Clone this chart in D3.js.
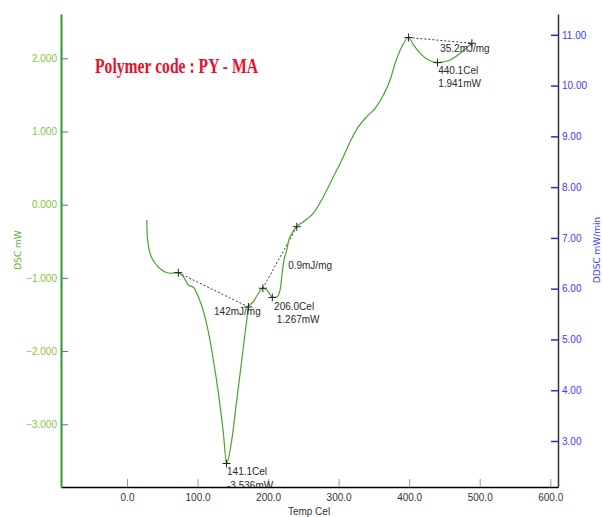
<!DOCTYPE html>
<html>
<head>
<meta charset="utf-8">
<script src="https://cdn.jsdelivr.net/npm/d3@7"></script>
<style>
    body { margin: 0; background: #fff; }
    .narrow { font-family: "Liberation Sans", Arial, sans-serif; }
</style>
</head>
<body>
<div id="chart"></div>
<script>
// DSC trace (temperature in Cel, heat flow in mW)
var temps = [27.9, 28.8, 32.6, 39.7, 49.2, 61.0, 72.8, 79.9, 87.0, 94.0, 101.1, 108.2,
    115.3, 122.4, 129.5, 136.6, 141.1, 148.5, 155.6, 162.7, 167.4, 169.8, 172.1, 179.1,
    186.2, 192.5, 200.4, 206.0, 212.3, 217.0, 219.4, 221.7, 226.5, 228.8, 234.0, 240.7,
    250.1, 264.3, 278.4, 292.6, 304.5, 316.3, 328.1, 340.0, 351.8, 363.5, 373.0, 380.1,
    389.6, 399.0, 406.1, 415.6, 427.4, 440.1, 458.2, 472.3, 488.9];
var dsc = [-0.209, -0.437, -0.660, -0.797, -0.892, -0.937, -0.929, -0.984, -1.097, -1.128,
    -1.257, -1.452, -1.739, -2.122, -2.572, -3.119, -3.536, -3.214, -2.668, -2.122, -1.753,
    -1.575, -1.398, -1.325, -1.210, -1.142, -1.188, -1.267, -1.261, -1.166, -0.984, -0.801,
    -0.619, -0.505, -0.387, -0.301, -0.232, -0.117, 0.109, 0.383, 0.611, 0.861, 1.066,
    1.202, 1.317, 1.499, 1.704, 1.932, 2.158, 2.284, 2.182, 2.068, 1.977, 1.941, 1.977,
    2.068, 2.205];

// integration limits / peak markers (index into the trace)
var markerIdx = [6, 16, 22, 25, 27, 35, 49, 53, 56];
// partial area baselines: [start index, end index]
var baselines = [[6, 22], [25, 35], [49, 56]];

// annotation texts and where they sit (data units)
var noteText = ["142mJ/mg", "0.9mJ/mg", "206.0Cel", "1.267mW", "141.1Cel", "-3.536mW",
    "35.2mJ/mg", "440.1Cel", "1.941mW"];
var noteTemp = [123.4, 228.4, 208.5, 212.3, 141.8, 141.8, 444.0, 441.1, 441.1];
var noteDsc = [-1.464, -0.837, -1.393, -1.575, -3.648, -3.843, 2.137, 1.831, 1.649];

var xTicks = [0, 100, 200, 300, 400, 500, 600];
var leftTicks = [-3, -2, -1, 0, 1, 2];
var rightTicks = [3, 4, 5, 6, 7, 8, 9, 10, 11];

var titleText = "Polymer code : PY - MA";

function drawDsc(divName) {
    var W = 602, H = 517;
    var left = 61, right = 558, top = 14, bottom = 487;

    var x = d3.scaleLinear().domain([-93.6, 611]).range([left, right]);
    var yL = d3.scaleLinear().domain([-3.857, 2.605]).range([bottom, top]);
    var yR = d3.scaleLinear().domain([2.094, 11.41]).range([bottom, top]);

    var svg = d3.select('#' + divName)
        .append('svg')
        .attr('width', W)
        .attr('height', H);

    svg.append('clipPath').attr('id', 'plotclip')
        .append('rect')
        .attr('x', left).attr('y', top)
        .attr('width', right - left).attr('height', bottom - top);

    // x axis
    var xAxis = svg.append('g')
        .attr('transform', 'translate(0,' + bottom + ')')
        .call(d3.axisBottom(x).tickValues(xTicks).tickFormat(d3.format('.1f'))
            .tickSizeInner(-8).tickSizeOuter(0).tickPadding(7));
    xAxis.select('.domain').attr('stroke', '#000').attr('stroke-width', 1.5);
    xAxis.selectAll('.tick line').attr('stroke', '#999');
    xAxis.selectAll('.tick text')
        .attr('class', 'narrow')
        .attr('font-size', 10)
        .attr('fill', '#333');

    svg.append('text')
        .attr('x', 309).attr('y', 515)
        .attr('text-anchor', 'middle')
        .attr('class', 'narrow')
        .attr('font-size', 10)
        .attr('fill', '#333')
        .text('Temp Cel');

    // left axis (DSC)
    var yAxisL = svg.append('g')
        .attr('transform', 'translate(' + left + ',0)')
        .call(d3.axisLeft(yL).tickValues(leftTicks).tickFormat(d3.format('.3f'))
            .tickSizeInner(-7).tickSizeOuter(0).tickPadding(4));
    yAxisL.select('.domain').attr('stroke', '#2e9a2e').attr('stroke-width', 2);
    yAxisL.selectAll('.tick line').attr('stroke', '#3d8f3d');
    yAxisL.selectAll('.tick text')
        .attr('class', 'narrow')
        .attr('font-size', 10)
        .attr('fill', '#86c440');

    svg.append('text')
        .attr('transform', 'translate(21,250) rotate(-90)')
        .attr('text-anchor', 'middle')
        .attr('font-family', 'DejaVu Sans, sans-serif')
        .attr('font-size', 9)
        .attr('fill', '#58b030')
        .text('DSC mW');

    // right axis (DDSC)
    var yAxisR = svg.append('g')
        .attr('transform', 'translate(' + right + ',0)')
        .call(d3.axisRight(yR).tickValues(rightTicks).tickFormat(d3.format('.2f'))
            .tickSizeInner(-7).tickSizeOuter(0).tickPadding(4));
    yAxisR.select('.domain').attr('stroke', '#333').attr('stroke-width', 1.5);
    yAxisR.selectAll('.tick line').attr('stroke', '#2a2ae0').attr('stroke-width', 1.5);
    yAxisR.selectAll('.tick text')
        .attr('class', 'narrow')
        .attr('font-size', 10)
        .attr('fill', '#3a3aff');

    svg.append('text')
        .attr('transform', 'translate(600,250) rotate(-90)')
        .attr('text-anchor', 'middle')
        .attr('font-family', 'DejaVu Sans, sans-serif')
        .attr('font-size', 9)
        .attr('fill', '#3a3aff')
        .text('DDSC mW/min');

    // title
    svg.append('text')
        .attr('x', 95).attr('y', 73)
        .attr('font-family', 'Liberation Serif, Times New Roman, serif')
        .attr('font-weight', 'bold')
        .attr('font-size', 20)
        .attr('textLength', 163)
        .attr('lengthAdjust', 'spacingAndGlyphs')
        .attr('fill', '#e8102a')
        .text(titleText);

    var g = svg.append('g').attr('clip-path', 'url(#plotclip)');

    var pts = temps.map(function (t, i) {
        return [t, dsc[i]];
    });

    // baselines
    g.selectAll('.baseline')
        .data(baselines)
        .enter().append('line')
        .attr('class', 'baseline')
        .attr('x1', function (d) { return x(temps[d[0]]); })
        .attr('y1', function (d) { return yL(dsc[d[0]]); })
        .attr('x2', function (d) { return x(temps[d[1]]); })
        .attr('y2', function (d) { return yL(dsc[d[1]]); })
        .attr('stroke', '#222')
        .attr('stroke-width', 0.9)
        .attr('stroke-dasharray', '2,2');

    // DSC curve
    var line = d3.line()
        .x(function (d) { return x(d[0]); })
        .y(function (d) { return yL(d[1]); })
        .curve(d3.curveMonotoneX);

    g.append('path')
        .datum(pts)
        .attr('fill', 'none')
        .attr('stroke', '#46a52c')
        .attr('stroke-width', 1.2)
        .attr('d', line);

    // markers
    var cross = g.selectAll('.marker')
        .data(markerIdx)
        .enter().append('g')
        .attr('class', 'marker')
        .attr('transform', function (i) {
            return 'translate(' + x(temps[i]) + ',' + yL(dsc[i]) + ')';
        });
    cross.append('line').attr('x1', -4).attr('x2', 4).attr('y1', 0).attr('y2', 0)
        .attr('stroke', '#222').attr('stroke-width', 1);
    cross.append('line').attr('x1', 0).attr('x2', 0).attr('y1', -4).attr('y2', 4)
        .attr('stroke', '#222').attr('stroke-width', 1);

    // annotations
    g.selectAll('.note')
        .data(noteText)
        .enter().append('text')
        .attr('class', 'note narrow')
        .attr('x', function (d, i) { return x(noteTemp[i]); })
        .attr('y', function (d, i) { return yL(noteDsc[i]); })
        .attr('dy', '0.35em')
        .attr('font-size', 10)
        .attr('fill', '#2a2a2a')
        .text(function (d) { return d; });
}

drawDsc('chart');
</script>
</body>
</html>
